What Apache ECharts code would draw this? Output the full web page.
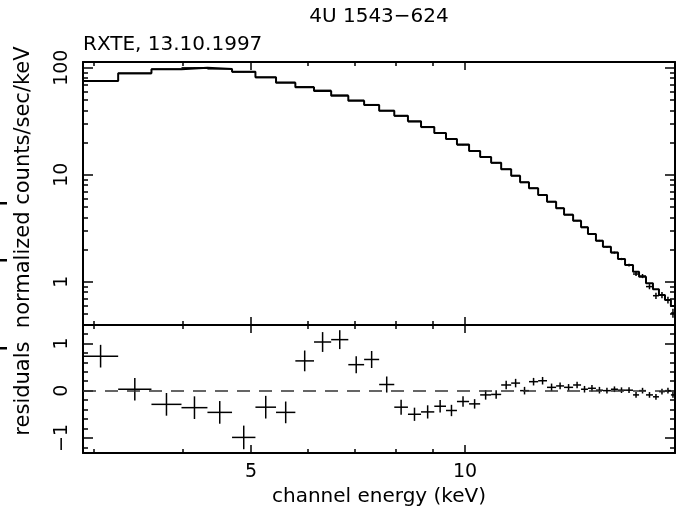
<!DOCTYPE html>
<html>
<head>
<meta charset="utf-8">
<script src="https://cdn.jsdelivr.net/npm/echarts@6/dist/echarts.min.js"></script>
<style>
  html, body { margin: 0; padding: 0; background: #fff; }
  #main { width: 679px; height: 510px; }
</style>
</head>
<body>
<div id="main"></div>
<script>
// channel bin edges (keV), one more than the bins
var edges = [2.90, 3.25, 3.62, 3.99, 4.34, 4.70, 5.07, 5.42, 5.77, 6.13, 6.48, 6.85, 7.21, 7.57, 7.95,
  8.31, 8.67, 9.05, 9.40, 9.74, 10.13, 10.50, 10.88, 11.24, 11.61, 11.95, 12.30, 12.67, 13.04, 13.43,
  13.78, 14.19, 14.56, 14.89, 15.28, 15.63, 16.04, 16.41, 16.79, 17.23, 17.57, 17.97, 18.38, 18.74,
  19.11, 19.48, 19.74];

// folded model (histogram), counts/sec/keV
var modelFlux = [75.1, 88.6, 96.6, 100, 97.2, 91.7, 81.3, 72.4, 65.6, 60.6,
  54.7, 49.2, 44.8, 39.6, 35.6, 31.6, 27.9, 24.5, 21.6, 19.1,
  16.65, 14.6, 12.9, 11.23, 9.79, 8.49, 7.46, 6.46, 5.59, 4.85,
  4.23, 3.72, 3.22, 2.79, 2.42, 2.12, 1.87, 1.63, 1.43, 1.24,
  1.113, 0.966, 0.849, 0.751, 0.675, 0.593];

// measured spectrum and its errors
var dataFlux = [75.3, 88.4, 96.9, 99.6, 97.5, 91.2, 81.0, 72.9, 66.2, 61.4,
  55.3, 49.5, 45.1, 39.7, 35.4, 31.3, 27.7, 24.4, 21.5, 19.0,
  16.6, 14.6, 12.9, 11.25, 9.80, 8.48, 7.48, 6.47, 5.60, 4.86,
  4.24, 3.73, 3.22, 2.79, 2.42, 2.12, 1.87, 1.63, 1.43, 1.18,
  1.13, 0.90, 0.74, 0.75, 0.675, 0.51];
var fluxErr = [0.4, 0.4, 0.4, 0.4, 0.4, 0.4, 0.35, 0.3, 0.3, 0.3,
  0.25, 0.25, 0.2, 0.2, 0.2, 0.15, 0.15, 0.13, 0.12, 0.11,
  0.1, 0.09, 0.08, 0.07, 0.07, 0.06, 0.06, 0.05, 0.05, 0.05,
  0.05, 0.05, 0.04, 0.04, 0.04, 0.04, 0.04, 0.04, 0.04, 0.05,
  0.05, 0.05, 0.05, 0.05, 0.05, 0.05];

// residuals panel
var residuals = [0.73, 0.03, -0.29, -0.36, -0.46, -0.99, -0.35, -0.46, 0.63, 1.03,
  1.08, 0.55, 0.66, 0.13, -0.35, -0.50, -0.45, -0.33, -0.42, -0.23,
  -0.28, -0.09, -0.08, 0.12, 0.16, 0.0, 0.19, 0.21, 0.07, 0.10,
  0.07, 0.12, 0.03, 0.05, 0.01, 0.0, 0.03, 0.01, 0.01, -0.09,
  0.0, -0.09, -0.13, -0.02, 0.0, -0.09];
var residErr = [0.24, 0.24, 0.24, 0.24, 0.24, 0.25, 0.24, 0.23, 0.22, 0.21,
  0.2, 0.18, 0.18, 0.17, 0.16, 0.14, 0.14, 0.13, 0.12, 0.11,
  0.1, 0.1, 0.09, 0.09, 0.09, 0.08, 0.08, 0.08, 0.08, 0.07,
  0.07, 0.07, 0.07, 0.07, 0.07, 0.06, 0.06, 0.06, 0.06, 0.06,
  0.06, 0.06, 0.06, 0.06, 0.06, 0.06];

// axis ranges and ticks
var energyRange = [2.90, 19.74];
var fluxRange = [0.394, 113];
var residRange = [-1.32, 1.39];
var energyMajor = [5, 10];
var energyMinor = [3, 4, 6, 7, 8, 9];
var fluxMajor = [1, 10, 100];
var fluxMinor = [0.4, 0.5, 0.6, 0.7, 0.8, 0.9, 2, 3, 4, 5, 6, 7, 8, 9, 20, 30, 40, 50, 60, 70, 80, 90];
var residMajor = [-1, 0, 1];
var residMinor = [-1.2, -0.8, -0.6, -0.4, -0.2, 0.2, 0.4, 0.6, 0.8, 1.2];

var LN = Math.log10;
var FONT = 'DejaVu Sans';

var chartDom = document.getElementById('main');
var myChart = echarts.init(chartDom);

function xAxisOf(grid, pos, ticks, len, withLine, withLabel) {
  return {
    type: 'value', gridIndex: grid, position: pos,
    min: LN(energyRange[0]), max: LN(energyRange[1]),
    axisLine: { show: withLine, onZero: false, lineStyle: { color: '#000', width: 2 } },
    axisTick: { show: true, inside: true, length: len, customValues: ticks.map(LN),
      lineStyle: { color: '#000', width: 1.5 } },
    axisLabel: withLabel ? {
      show: true, customValues: ticks.map(LN), margin: 10,
      color: '#000', fontFamily: FONT, fontSize: 19,
      formatter: function (v) { return String(Math.round(Math.pow(10, v))); }
    } : { show: false },
    splitLine: { show: false }
  };
}

function yAxisOf(grid, pos, ticks, len, withLine, range, isLog, withLabel) {
  var tr = isLog ? LN : function (v) { return v; };
  return {
    type: 'value', gridIndex: grid, position: pos,
    min: tr(range[0]), max: tr(range[1]),
    axisLine: { show: withLine, onZero: false, lineStyle: { color: '#000', width: 2 } },
    axisTick: { show: true, inside: true, length: len, customValues: ticks.map(tr),
      lineStyle: { color: '#000', width: 1.5 } },
    axisLabel: withLabel ? {
      show: true, customValues: ticks.map(tr), rotate: 90, margin: 11,
      color: '#000', fontFamily: FONT, fontSize: 19,
      formatter: function (v) {
        if (isLog) return String(Math.round(Math.pow(10, v)));
        var r = Math.round(v);
        return r < 0 ? '\u2212' + (-r) : String(r);
      }
    } : { show: false },
    splitLine: { show: false }
  };
}

function crossItem(params, api) {
  var lo = api.coord([api.value(0), api.value(3)]);
  var hi = api.coord([api.value(1), api.value(3)]);
  var up = api.coord([api.value(2), api.value(4)]);
  var dn = api.coord([api.value(2), api.value(5)]);
  var st = { stroke: '#000', lineWidth: 1.5 };
  return {
    type: 'group',
    children: [
      { type: 'line', shape: { x1: lo[0], y1: lo[1], x2: hi[0], y2: hi[1] }, style: st },
      { type: 'line', shape: { x1: up[0], y1: up[1], x2: dn[0], y2: dn[1] }, style: st }
    ]
  };
}

var modelLine = [];
var fluxCrosses = [];
var residCrosses = [];
for (var i = 0; i < edges.length; i++) {
  modelLine.push([LN(edges[i]), LN(modelFlux[Math.min(i, modelFlux.length - 1)])]);
}
for (var j = 0; j < modelFlux.length; j++) {
  var a = LN(edges[j]), b = LN(edges[j + 1]), m = (a + b) / 2;
  fluxCrosses.push([a, b, m, LN(dataFlux[j]), LN(dataFlux[j] + fluxErr[j]), LN(dataFlux[j] - fluxErr[j])]);
  residCrosses.push([a, b, m, residuals[j], residuals[j] + residErr[j], residuals[j] - residErr[j]]);
}

var option = {
  animation: false,
  backgroundColor: '#fff',
  title: [
    { text: '4U 1543\u2212624', left: 379, top: 7, padding: 0, textAlign: 'center',
      textStyle: { color: '#000', fontFamily: FONT, fontSize: 20, fontWeight: 'normal' } },
    { text: 'RXTE, 13.10.1997', left: 83, top: 35, padding: 0,
      textStyle: { color: '#000', fontFamily: FONT, fontSize: 20, fontWeight: 'normal' } }
  ],
  grid: [
    { left: 83, right: 4, top: 62, height: 263 },
    { left: 83, right: 4, top: 325, height: 128 }
  ],
  xAxis: [
    xAxisOf(0, 'bottom', energyMajor, 8, true, false),
    xAxisOf(0, 'bottom', energyMinor, 4, false, false),
    xAxisOf(0, 'top', energyMajor, 8, true, false),
    xAxisOf(0, 'top', energyMinor, 4, false, false),
    Object.assign(xAxisOf(1, 'bottom', energyMajor, 8, true, true), {
      name: 'channel energy (keV)', nameLocation: 'middle', nameGap: 34,
      nameTextStyle: { color: '#000', fontFamily: FONT, fontSize: 20 }
    }),
    xAxisOf(1, 'bottom', energyMinor, 4, false, false),
    xAxisOf(1, 'top', energyMajor, 8, true, false),
    xAxisOf(1, 'top', energyMinor, 4, false, false)
  ],
  yAxis: [
    yAxisOf(0, 'left', fluxMajor, 10, true, fluxRange, true, true),
    yAxisOf(0, 'left', fluxMinor, 5, false, fluxRange, true, false),
    yAxisOf(0, 'right', fluxMajor, 10, true, fluxRange, true, false),
    yAxisOf(0, 'right', fluxMinor, 5, false, fluxRange, true, false),
    yAxisOf(1, 'left', residMajor, 10, true, residRange, false, true),
    yAxisOf(1, 'left', residMinor, 5, false, residRange, false, false),
    yAxisOf(1, 'right', residMajor, 10, true, residRange, false, false),
    yAxisOf(1, 'right', residMinor, 5, false, residRange, false, false)
  ],
  graphic: [
    { type: 'text', x: 24, y: 241, rotation: Math.PI / 2,
      style: { text: 'residuals  normalized counts/sec/keV', fill: '#000',
        font: '21px "DejaVu Sans"', align: 'center', verticalAlign: 'middle',
        textAlign: 'center', textVerticalAlign: 'middle' } },
    { type: 'rect', shape: { x: 0, y: 202, width: 7, height: 2.5 }, style: { fill: '#000' } },
    { type: 'rect', shape: { x: 0, y: 259, width: 7, height: 2.5 }, style: { fill: '#000' } },
    { type: 'rect', shape: { x: 0, y: 347, width: 7, height: 2.5 }, style: { fill: '#000' } }
  ],
  series: [
    {
      name: 'model', type: 'line', xAxisIndex: 0, yAxisIndex: 0,
      step: 'end', symbol: 'none', data: modelLine,
      lineStyle: { color: '#000', width: 2 }
    },
    {
      name: 'data', type: 'custom', xAxisIndex: 0, yAxisIndex: 0, clip: true,
      renderItem: crossItem, data: fluxCrosses
    },
    {
      name: 'residuals', type: 'custom', xAxisIndex: 4, yAxisIndex: 4, clip: true,
      renderItem: crossItem, data: residCrosses,
      markLine: {
        silent: true, symbol: 'none', label: { show: false },
        lineStyle: { color: '#333', width: 1.5, type: [13, 9] },
        data: [{ yAxis: 0 }]
      }
    }
  ]
};

myChart.setOption(option);
</script>
</body>
</html>
